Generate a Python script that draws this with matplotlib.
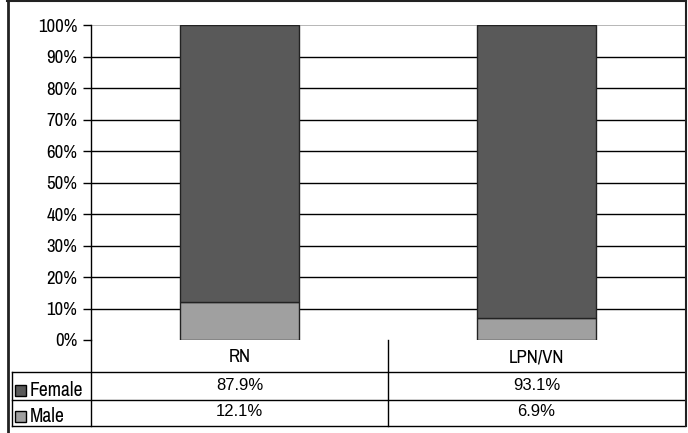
import matplotlib.pyplot as plt
import numpy as np
from matplotlib.lines import Line2D
from matplotlib.patches import Rectangle

categories = ["RN", "LPN/VN"]
female = [87.9, 93.1]
male = [12.1, 6.9]
series_names = ["Female", "Male"]
yticks = [0, 10, 20, 30, 40, 50, 60, 70, 80, 90, 100]

female_color = "#595959"
male_color = "#a0a0a0"

W, H = 688, 433
narrow = ["Liberation Sans Narrow", "Archivo Narrow", "PT Sans Narrow",
          "Roboto Condensed", "Pragati Narrow", "DejaVu Sans"]
plain = ["Liberation Sans", "DejaVu Sans"]


def fx(x):
    return x / W


def fy(y):
    return 1 - y / H


fig = plt.figure(figsize=(W / 100, H / 100), dpi=100)
fig.patch.set_facecolor("white")

# plot area
left, right, top, bottom = 91, 685, 25, 340
ax = fig.add_axes([fx(left), fy(bottom), fx(right - left), (bottom - top) / H])
x = np.arange(len(categories))
ax.bar(x, male, width=0.4, color=male_color, edgecolor="#222222", linewidth=1, zorder=3)
ax.bar(x, female, width=0.4, bottom=male, color=female_color,
       edgecolor="#222222", linewidth=1, zorder=3)
ax.set_xlim(-0.5, len(categories) - 0.5)
ax.set_ylim(0, 100)
ax.set_yticks(yticks)
ax.set_yticklabels([f"{t}%" for t in yticks], fontfamily=narrow, fontsize=13.5)
ax.set_xticks([])
for t in yticks[1:-1]:
    ax.axhline(t, color="black", linewidth=1, zorder=1)
ax.axhline(100, color="#aaaaaa", linewidth=1.2, zorder=1)
for s in ["top", "right", "bottom"]:
    ax.spines[s].set_visible(False)
ax.spines["left"].set_linewidth(1)
ax.tick_params(axis="y", length=6, width=1, direction="out", pad=4)

# data table under the plot
col_div = 388


def hline(y, x0, x1, lw=1.0, c="black"):
    fig.add_artist(Line2D([fx(x0), fx(x1)], [fy(y), fy(y)], color=c, linewidth=lw))


def vline(x, y0, y1, lw=1.0, c="black"):
    fig.add_artist(Line2D([fx(x), fx(x)], [fy(y0), fy(y1)], color=c, linewidth=lw))


hline(372, 12, right)
hline(400, 12, right)
hline(426, 12, right)
vline(left, 340, 426)
vline(col_div, 340, 426)
vline(12, 372, 426)

col_centers = [(left + col_div) / 2, (col_div + right) / 2]
for cx, cat in zip(col_centers, categories):
    fig.text(fx(cx), fy(357), cat, ha="center", va="center",
             fontfamily=narrow, fontsize=13.5)

rows = [(female, female_color, 386, 390), (male, male_color, 411, 416)]
for name, (vals, col, vy, ly) in zip(series_names, rows):
    fig.add_artist(Rectangle((fx(15), fy(ly + 6)), 11 / W, 11 / H,
                             facecolor=col, edgecolor="black", linewidth=1,
                             transform=fig.transFigure))
    fig.text(fx(30), fy(ly), name, ha="left", va="center",
             fontfamily=narrow, fontsize=14)
    for cx, v in zip(col_centers, vals):
        fig.text(fx(cx), fy(vy), f"{v}%", ha="center", va="center",
                 fontfamily=plain, fontsize=12)

# outer frame
hline(1, 7, 686, lw=1.5, c="#222222")
vline(7.5, 0, H, lw=2, c="#222222")
vline(685.5, 0, 426, lw=1.5, c="#222222")

fig.savefig("out.png", dpi=100)
